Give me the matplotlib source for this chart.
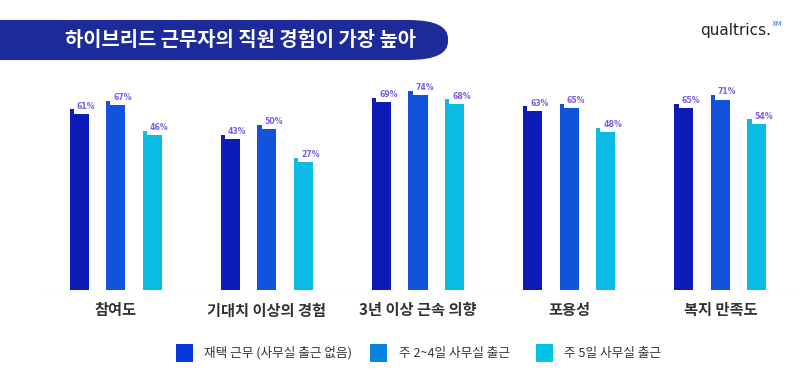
import matplotlib
matplotlib.use("Agg")
import matplotlib.pyplot as plt
from matplotlib.patches import FancyBboxPatch, Rectangle
import numpy as np

plt.rcParams['font.family'] = ['Noto Sans CJK KR', 'DejaVu Sans']

categories = ["참여도", "기대치 이상의 경험", "3년 이상 근속 의향", "포용성", "복지 만족도"]
series_names = ["재택 근무 (사무실 출근 없음)", "주 2~4일 사무실 출근", "주 5일 사무실 출근"]
remote = [61, 43, 69, 63, 65]
hybrid = [67, 50, 74, 65, 71]
office = [46, 27, 68, 48, 54]
title = "하이브리드 근무자의 직원 경험이 가장 높아"

bar_colors = ["#0c1ab8", "#1153dc", "#0bbde6"]
legend_colors = ["#0737d8", "#0784dd", "#00c4e3"]
label_color = "#7b5fe0"

fig = plt.figure(figsize=(8, 3.84), dpi=100)
ax = fig.add_axes([0.05, (384 - 290) / 384, 0.945, 210 / 384])

base = -63
ax.set_ylim(base, 84.8)
ax.set_xlim(-0.5, 4.5)

x = np.arange(len(categories))
offset = 0.2414
width = 0.126
tab_w = 0.028
tab_h = 3.2

for i, vals in enumerate([remote, hybrid, office]):
    xs = x + (i - 1) * offset
    v = np.array(vals, dtype=float)
    ax.bar(xs, v - base, bottom=base, width=width, color=bar_colors[i], linewidth=0, zorder=2)
    ax.bar(xs - width / 2 + tab_w / 2, v + tab_h - base, bottom=base, width=tab_w,
           color=bar_colors[i], linewidth=0, zorder=2)
    for xi, vi in zip(xs, v):
        ax.text(xi - width / 2 + 0.047, vi + 2.2, f"{int(vi)}%", fontsize=5.6,
                color=label_color, fontweight='bold', ha='left', va='bottom',
                family=['DejaVu Sans'])

ax.axhline(base, color="#eeeeee", linewidth=1.0, zorder=1)
for s in ax.spines.values():
    s.set_visible(False)
ax.set_yticks([])
ax.set_xticks(x)
ax.set_xticklabels(categories, fontsize=11, fontweight='bold', color="#333333")
ax.tick_params(axis='x', length=0, pad=9)

# Title banner
banner = FancyBboxPatch((-60 / 800, (384 - 60) / 384), 508 / 800, 40 / 384,
                        boxstyle="round,pad=0,rounding_size=0.05",
                        transform=fig.transFigure, facecolor="#1c2a9a",
                        edgecolor="none", mutation_aspect=384 / 800 * 2.0)
fig.patches.append(banner)
fig.text(65 / 800, 1 - 40 / 384, title, fontsize=14.3, fontweight='bold', color='white',
         ha='left', va='center')

# Logo
logo = fig.text(700 / 800, 1 - 31 / 384, "qualtrics.", fontsize=11, color="#222222",
                ha='left', va='center', family=['DejaVu Sans'])
fig.canvas.draw()
bb = logo.get_window_extent()
fig.text((bb.x1 + 0.5) / 800, 1 - 24 / 384, "XM", fontsize=5, color="#2a7de8",
         ha='left', va='center', family=['DejaVu Sans'])

# Legend
sq_x = [176, 370, 536]
tx_x = [204, 399, 564]
for i in range(3):
    fig.patches.append(Rectangle((sq_x[i] / 800, 1 - 362 / 384), 17 / 800, 18 / 384,
                                 transform=fig.transFigure, facecolor=legend_colors[i],
                                 edgecolor='none'))
    fig.text(tx_x[i] / 800, 1 - 353 / 384, series_names[i], fontsize=9.1,
             color="#333333", ha='left', va='center')

fig.savefig("out.png", dpi=100, facecolor='white')
